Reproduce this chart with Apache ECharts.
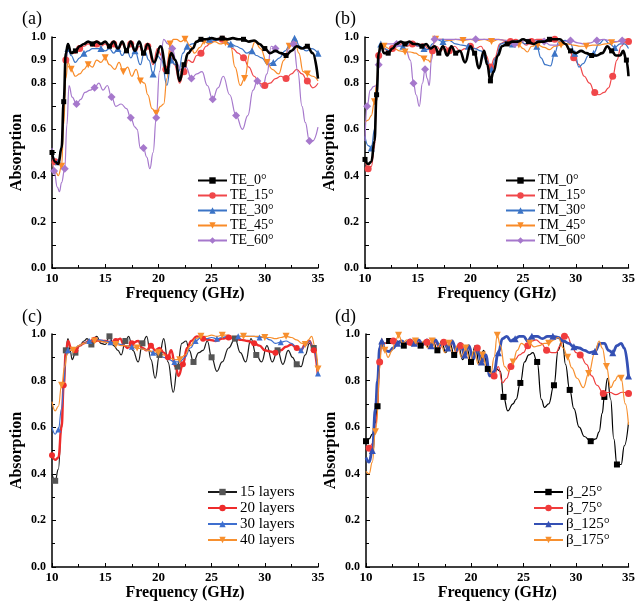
<!DOCTYPE html>
<html>
<head>
<meta charset="utf-8">
<script src="https://cdn.jsdelivr.net/npm/echarts@6/dist/echarts.min.js"></script>
<style>
html,body{margin:0;padding:0;background:#fff;}
#chart{width:638px;height:602px;}
</style>
</head>
<body>
<div id="chart"></div>
<script>
// ---------- axis ticks ----------
const freqMin = 10, freqMax = 35, freqStep = 5;
const topYLabels = [0, 0.2, 0.4, 0.6, 0.8, 0.9, 1.0];

// ---------- (a) TE polarisation, incidence angle ----------
const teNames = ['TE_0°', 'TE_15°', 'TE_30°', 'TE_45°', 'TE_60°'];
const te0 = [[10,0.50],[10.3,0.46],[10.6,0.45],[10.9,0.52],[11.1,0.72],[11.3,0.93],[11.5,0.97],[11.8,0.93],[12.2,0.94],[12.6,0.96],[13.0,0.97],[13.4,0.98],[13.8,0.97],[14.2,0.98],[14.6,0.97],[15.0,0.98],[15.4,0.96],[15.8,0.98],[16.2,0.95],[16.6,0.98],[17.0,0.94],[17.4,0.98],[17.8,0.94],[18.2,0.98],[18.6,0.93],[19.0,0.97],[19.6,0.89],[20.2,0.96],[20.8,0.85],[21.2,0.93],[21.6,0.90],[22.0,0.81],[22.4,0.88],[22.8,0.93],[23.2,0.95],[23.6,0.98],[24.0,0.99],[24.5,0.99],[25.0,0.995],[25.5,0.99],[26.0,0.995],[26.5,0.99],[27.0,0.995],[27.5,0.99],[28.0,0.99],[28.5,0.98],[29.0,0.985],[29.5,0.97],[30.0,0.95],[30.5,0.93],[31.0,0.94],[31.5,0.93],[32.0,0.92],[32.5,0.94],[33.0,0.96],[33.5,0.95],[34.0,0.96],[34.5,0.93],[35.0,0.82]];
const te15 = [[10,0.48],[10.3,0.46],[10.6,0.46],[10.9,0.52],[11.1,0.70],[11.3,0.90],[11.5,0.95],[11.8,0.93],[12.2,0.93],[12.6,0.95],[13.0,0.96],[13.4,0.97],[13.8,0.96],[14.2,0.97],[14.6,0.96],[15.0,0.97],[15.4,0.95],[15.8,0.97],[16.2,0.94],[16.6,0.97],[17.0,0.94],[17.4,0.97],[17.8,0.93],[18.2,0.96],[18.6,0.92],[19.0,0.96],[19.5,0.88],[19.9,0.95],[20.3,0.92],[20.7,0.86],[21.1,0.94],[21.5,0.88],[22.0,0.80],[22.4,0.85],[22.8,0.90],[23.2,0.89],[23.6,0.92],[24.0,0.93],[24.5,0.96],[25.0,0.98],[25.5,0.99],[26.0,0.99],[26.5,0.97],[27.0,0.95],[27.5,0.93],[28.0,0.91],[28.5,0.87],[29.0,0.83],[29.5,0.80],[30.0,0.79],[30.5,0.80],[31.0,0.82],[31.5,0.83],[32.0,0.82],[32.5,0.84],[33.0,0.86],[33.5,0.84],[34.0,0.81],[34.5,0.78],[35.0,0.80]];
const te30 = [[10,0.50],[10.3,0.47],[10.6,0.46],[10.9,0.53],[11.1,0.72],[11.3,0.90],[11.5,0.95],[11.8,0.92],[12.2,0.89],[12.6,0.91],[13.0,0.93],[13.4,0.94],[13.8,0.95],[14.2,0.95],[14.6,0.95],[15.0,0.94],[15.4,0.95],[15.8,0.93],[16.2,0.95],[16.6,0.92],[17.0,0.95],[17.4,0.91],[17.8,0.94],[18.3,0.88],[18.7,0.94],[19.1,0.90],[19.5,0.84],[19.9,0.92],[20.3,0.90],[20.8,0.79],[21.2,0.90],[21.6,0.88],[21.9,0.85],[22.3,0.93],[22.7,0.96],[23.2,0.97],[23.7,0.98],[24.2,0.99],[24.8,0.99],[25.3,0.985],[25.8,0.99],[26.3,0.98],[26.8,0.97],[27.3,0.96],[27.8,0.95],[28.3,0.93],[28.8,0.94],[29.2,0.92],[29.7,0.91],[30.3,0.88],[30.8,0.89],[31.4,0.91],[31.9,0.94],[32.4,0.97],[32.8,0.995],[33.3,0.96],[33.9,0.94],[34.4,0.95],[35.0,0.93]];
const te45 = [[10,0.46],[10.3,0.42],[10.6,0.40],[10.9,0.44],[11.1,0.62],[11.3,0.82],[11.5,0.89],[11.8,0.86],[12.2,0.83],[12.6,0.84],[13.0,0.86],[13.4,0.88],[13.8,0.87],[14.2,0.90],[14.6,0.89],[15.0,0.91],[15.4,0.88],[15.9,0.86],[16.3,0.89],[16.7,0.85],[17.1,0.87],[17.5,0.83],[17.9,0.86],[18.3,0.81],[18.7,0.80],[19.0,0.75],[19.4,0.69],[19.8,0.67],[20.2,0.70],[20.5,0.71],[20.8,0.82],[21.1,0.97],[21.4,0.99],[21.7,0.99],[22.1,0.98],[22.5,0.99],[23.0,0.96],[23.4,0.93],[23.9,0.955],[24.3,0.98],[24.8,0.97],[25.3,0.98],[25.8,0.97],[26.3,0.975],[26.8,0.96],[27.2,0.87],[27.7,0.79],[28.1,0.82],[28.6,0.93],[29.1,0.98],[29.6,0.95],[30.2,0.89],[30.7,0.86],[31.3,0.84],[31.8,0.90],[32.3,0.96],[32.8,0.995],[33.2,0.93],[33.6,0.85],[34.0,0.84],[34.5,0.83],[35.0,0.81]];
const te60 = [[10,0.52],[10.2,0.42],[10.5,0.35],[10.7,0.33],[10.9,0.37],[11.2,0.43],[11.4,0.62],[11.6,0.79],[11.9,0.74],[12.3,0.71],[12.7,0.73],[13.1,0.76],[13.6,0.77],[14.0,0.78],[14.4,0.80],[14.8,0.77],[15.2,0.79],[15.6,0.74],[16.0,0.70],[16.5,0.71],[17.0,0.69],[17.4,0.65],[17.8,0.61],[18.0,0.60],[18.3,0.52],[18.6,0.52],[18.9,0.48],[19.2,0.43],[19.5,0.50],[19.8,0.65],[20.1,0.85],[20.5,0.99],[20.9,0.97],[21.3,0.95],[21.7,0.89],[22.1,0.86],[22.6,0.87],[23.1,0.82],[23.6,0.84],[24.1,0.85],[24.6,0.79],[25.1,0.73],[25.6,0.78],[26.1,0.83],[26.7,0.75],[27.3,0.66],[27.9,0.60],[28.4,0.66],[28.9,0.77],[29.3,0.81],[29.8,0.78],[30.2,0.84],[30.6,0.96],[31.0,0.95],[31.4,0.93],[31.9,0.92],[32.4,0.96],[32.7,0.97],[33.1,0.85],[33.5,0.70],[33.8,0.63],[34.2,0.55],[34.5,0.55],[35.0,0.61]];

// ---------- (b) TM polarisation, incidence angle ----------
const tmNames = ['TM_0°', 'TM_15°', 'TM_30°', 'TM_45°', 'TM_60°'];
const tm0 = [[10,0.47],[10.3,0.45],[10.6,0.46],[10.9,0.55],[11.1,0.75],[11.3,0.93],[11.5,0.97],[11.8,0.93],[12.2,0.93],[12.6,0.95],[13.0,0.97],[13.4,0.98],[13.8,0.97],[14.2,0.98],[14.6,0.97],[15.0,0.97],[15.4,0.96],[15.8,0.97],[16.2,0.95],[16.6,0.96],[17.0,0.93],[17.4,0.96],[17.8,0.92],[18.2,0.96],[18.6,0.93],[19.0,0.94],[19.5,0.89],[20.0,0.96],[20.4,0.93],[20.8,0.865],[21.3,0.94],[21.6,0.88],[21.9,0.81],[22.2,0.85],[22.6,0.92],[23.0,0.96],[23.5,0.97],[24.0,0.98],[24.5,0.98],[25.0,0.99],[25.5,0.98],[26.0,0.97],[26.5,0.98],[27.0,0.98],[27.5,0.99],[28.0,0.99],[28.5,0.99],[29.0,0.97],[29.5,0.94],[30.0,0.93],[30.5,0.94],[31.0,0.93],[31.5,0.92],[32.0,0.92],[32.5,0.93],[33.0,0.96],[33.4,0.94],[33.8,0.92],[34.2,0.92],[34.5,0.94],[34.8,0.90],[35.0,0.83]];
const tm15 = [[10,0.47],[10.3,0.43],[10.6,0.44],[10.9,0.52],[11.1,0.75],[11.3,0.92],[11.5,0.97],[11.8,0.95],[12.2,0.94],[12.6,0.95],[13.0,0.96],[13.5,0.97],[14.0,0.96],[14.5,0.97],[15.0,0.96],[15.5,0.97],[16.0,0.95],[16.4,0.94],[16.8,0.96],[17.2,0.94],[17.6,0.96],[18.0,0.94],[18.5,0.96],[19.0,0.94],[19.5,0.95],[20.0,0.96],[20.5,0.95],[21.0,0.96],[21.5,0.92],[21.9,0.87],[22.3,0.91],[22.8,0.97],[23.3,0.98],[23.8,0.98],[24.3,0.99],[24.8,0.98],[25.3,0.965],[25.8,0.98],[26.3,0.99],[26.9,0.99],[27.5,0.98],[28.0,0.99],[28.5,0.99],[29.0,0.97],[29.4,0.94],[29.8,0.91],[30.3,0.88],[30.8,0.83],[31.3,0.80],[31.8,0.76],[32.2,0.75],[32.7,0.76],[33.1,0.78],[33.5,0.83],[33.9,0.90],[34.3,0.96],[34.7,0.98],[35.0,0.98]];
const tm30 = [[10,0.57],[10.3,0.53],[10.6,0.52],[10.9,0.60],[11.1,0.72],[11.3,0.90],[11.5,0.97],[11.8,0.95],[12.4,0.94],[13.0,0.96],[13.6,0.96],[14.2,0.97],[14.7,0.965],[15.2,0.96],[15.6,0.95],[16.0,0.945],[16.4,0.97],[16.8,0.99],[17.4,0.98],[18.0,0.985],[18.6,0.97],[19.2,0.965],[19.8,0.96],[20.4,0.95],[21.0,0.94],[21.5,0.90],[22.0,0.86],[22.4,0.91],[22.9,0.97],[23.5,0.98],[24.0,0.97],[24.6,0.985],[25.2,0.97],[25.8,0.98],[26.3,0.96],[26.7,0.91],[27.1,0.88],[27.6,0.875],[28.0,0.93],[28.4,0.98],[29.0,0.985],[29.5,0.97],[29.9,0.93],[30.3,0.87],[30.7,0.885],[31.2,0.92],[31.7,0.93],[32.2,0.97],[32.7,0.99],[33.2,0.97],[33.7,0.955],[34.2,0.97],[34.6,0.97],[35.0,0.95]];
const tm45 = [[10,0.63],[10.3,0.64],[10.6,0.66],[10.9,0.72],[11.1,0.80],[11.3,0.92],[11.5,0.97],[11.8,0.96],[12.3,0.95],[12.8,0.95],[13.3,0.94],[13.8,0.935],[14.3,0.935],[14.8,0.93],[15.2,0.92],[15.6,0.905],[16.0,0.90],[16.2,0.89],[16.4,0.96],[16.7,0.99],[17.3,0.99],[18.0,0.985],[18.6,0.99],[19.3,0.985],[20.0,0.99],[20.6,0.985],[21.3,0.99],[22.0,0.98],[22.7,0.99],[23.3,0.985],[24.0,0.97],[24.6,0.965],[25.0,0.95],[25.4,0.935],[25.8,0.96],[26.4,0.965],[27.0,0.955],[27.5,0.945],[28.0,0.96],[28.6,0.965],[29.2,0.97],[29.8,0.965],[30.4,0.96],[31.0,0.96],[31.6,0.965],[32.2,0.965],[32.8,0.97],[33.4,0.975],[34.0,0.98],[34.5,0.99],[35.0,0.99]];
const tm60 = [[10,0.55],[10.2,0.70],[10.5,0.77],[10.8,0.785],[11.1,0.79],[11.3,0.88],[11.5,0.97],[12.0,0.97],[12.5,0.97],[13.0,0.97],[13.5,0.96],[13.9,0.94],[14.3,0.90],[14.6,0.80],[14.85,0.75],[15.15,0.70],[15.45,0.80],[15.7,0.86],[15.9,0.82],[16.1,0.79],[16.3,0.90],[16.6,0.99],[17.5,0.99],[18.5,0.99],[19.5,0.99],[20.5,0.99],[21.5,0.99],[22.5,0.99],[23.5,0.985],[24.2,0.97],[24.8,0.98],[25.5,0.99],[26.2,0.985],[27.0,0.98],[27.6,0.965],[28.2,0.965],[28.8,0.98],[29.5,0.985],[30.2,0.975],[30.8,0.97],[31.4,0.975],[32.0,0.985],[32.6,0.99],[33.2,0.985],[33.8,0.98],[34.4,0.985],[35.0,0.99]];

// ---------- (c) number of layers ----------
const layerNames = ['15 layers', '20 layers', '30 layers', '40 layers'];
const l15 = [[10,0.40],[10.3,0.37],[10.6,0.42],[10.9,0.62],[11.1,0.80],[11.3,0.93],[11.5,0.98],[11.7,0.93],[11.9,0.89],[12.2,0.92],[12.6,0.95],[13.0,0.97],[13.3,0.98],[13.7,0.955],[14.2,0.99],[14.6,0.96],[15.0,0.955],[15.4,0.99],[15.8,0.95],[16.2,0.93],[16.5,0.91],[16.9,0.97],[17.2,0.99],[17.6,0.93],[18.1,0.88],[18.5,0.96],[18.9,0.99],[19.3,0.89],[19.7,0.81],[20.1,0.91],[20.5,0.98],[20.9,0.88],[21.4,0.75],[21.8,0.86],[22.2,0.96],[22.6,0.97],[22.9,0.93],[23.3,0.88],[23.8,0.92],[24.2,0.93],[24.6,0.97],[25.0,0.90],[25.5,0.84],[26.0,0.88],[26.6,0.94],[27.2,0.98],[27.7,0.92],[28.2,0.88],[28.7,0.98],[29.2,0.91],[29.7,0.88],[30.2,0.95],[30.7,0.88],[31.2,0.93],[31.7,0.87],[32.2,0.93],[32.6,0.90],[33.0,0.87],[33.4,0.86],[33.8,0.91],[34.2,0.96],[34.6,0.94],[35.0,0.84]];
const l20 = [[10,0.48],[10.3,0.46],[10.6,0.47],[10.9,0.60],[11.1,0.78],[11.3,0.92],[11.5,0.97],[11.8,0.94],[12.2,0.93],[12.6,0.95],[13.0,0.96],[13.5,0.97],[14.0,0.975],[14.5,0.97],[15.0,0.97],[15.5,0.965],[16.0,0.97],[16.4,0.98],[16.8,0.95],[17.1,0.94],[17.5,0.96],[18.1,0.97],[18.5,0.94],[18.9,0.93],[19.3,0.95],[19.7,0.93],[20.1,0.94],[20.5,0.92],[20.9,0.90],[21.2,0.93],[21.6,0.86],[21.9,0.82],[22.3,0.87],[22.7,0.94],[23.1,0.97],[23.6,0.99],[24.2,0.98],[24.8,0.975],[25.4,0.97],[26.0,0.98],[26.6,0.985],[27.2,0.98],[27.8,0.975],[28.4,0.97],[29.0,0.96],[29.5,0.95],[30.0,0.93],[30.5,0.925],[31.0,0.92],[31.5,0.93],[32.0,0.945],[32.5,0.955],[33.0,0.94],[33.4,0.93],[33.8,0.955],[34.2,0.97],[34.6,0.93],[35.0,0.82]];
const l30 = [[10,0.60],[10.3,0.57],[10.6,0.59],[10.9,0.68],[11.1,0.78],[11.3,0.90],[11.5,0.93],[12.0,0.93],[12.5,0.95],[13.0,0.96],[13.5,0.97],[14.0,0.975],[14.5,0.975],[15.0,0.97],[15.5,0.965],[16.0,0.96],[16.5,0.955],[17.0,0.95],[17.5,0.945],[18.0,0.94],[18.5,0.935],[19.0,0.93],[19.5,0.92],[20.0,0.91],[20.5,0.90],[21.0,0.89],[21.5,0.88],[22.0,0.88],[22.5,0.90],[23.0,0.94],[23.5,0.97],[24.0,0.985],[24.5,0.98],[25.0,0.985],[25.5,0.98],[26.0,0.985],[26.5,0.99],[27.0,0.99],[27.5,0.99],[28.0,0.99],[28.5,0.99],[29.0,0.99],[29.5,0.985],[30.0,0.985],[30.5,0.975],[31.0,0.96],[31.5,0.965],[32.0,0.97],[32.5,0.96],[33.0,0.94],[33.4,0.93],[33.8,0.95],[34.2,0.97],[34.6,0.93],[35.0,0.83]];
const l40 = [[10,0.71],[10.3,0.67],[10.6,0.69],[10.9,0.78],[11.2,0.86],[11.4,0.91],[11.6,0.93],[12.0,0.93],[12.5,0.95],[13.0,0.96],[13.5,0.965],[14.0,0.97],[14.5,0.97],[15.0,0.965],[15.5,0.96],[16.0,0.955],[16.5,0.95],[17.0,0.95],[17.5,0.945],[18.0,0.94],[18.5,0.935],[19.0,0.93],[19.5,0.925],[20.0,0.92],[20.5,0.91],[21.0,0.90],[21.5,0.89],[22.0,0.89],[22.5,0.91],[23.0,0.95],[23.5,0.98],[24.0,0.99],[24.5,0.99],[25.0,0.995],[25.5,0.99],[26.0,0.995],[26.5,0.995],[27.0,0.99],[27.5,0.99],[28.0,0.99],[28.5,0.99],[29.0,0.99],[29.5,0.99],[30.0,0.985],[30.5,0.985],[31.0,0.98],[31.5,0.985],[32.0,0.99],[32.5,0.985],[33.0,0.975],[33.5,0.96],[33.8,0.955],[34.1,0.975],[34.4,0.99],[34.7,0.95],[35.0,0.85]];

// ---------- (d) rotation angle beta ----------
const betaNames = ['β_25°', 'β_75°', 'β_125°', 'β_175°'];
const b25 = [[10,0.54],[10.3,0.55],[10.6,0.57],[10.9,0.62],[11.1,0.69],[11.3,0.90],[11.5,0.97],[11.8,0.96],[12.2,0.97],[12.4,0.98],[12.8,0.96],[13.2,0.97],[13.6,0.95],[14.0,0.97],[14.4,0.95],[14.8,0.97],[15.2,0.95],[15.6,0.97],[16.0,0.94],[16.4,0.97],[16.8,0.93],[17.2,0.97],[17.6,0.92],[18.0,0.96],[18.4,0.91],[18.8,0.95],[19.2,0.89],[19.6,0.94],[20.0,0.88],[20.4,0.95],[20.8,0.87],[21.2,0.93],[21.6,0.85],[22.0,0.82],[22.4,0.85],[22.8,0.84],[23.1,0.73],[23.5,0.67],[24.0,0.70],[24.3,0.72],[24.7,0.79],[25.1,0.88],[25.5,0.91],[25.9,0.92],[26.3,0.88],[26.7,0.72],[27.0,0.685],[27.4,0.70],[27.9,0.78],[28.3,0.93],[28.7,0.98],[29.0,0.87],[29.4,0.76],[29.8,0.68],[30.3,0.60],[30.8,0.56],[31.4,0.54],[31.9,0.55],[32.2,0.58],[32.5,0.66],[32.7,0.73],[33.0,0.81],[33.3,0.72],[33.6,0.55],[33.9,0.44],[34.3,0.44],[34.6,0.52],[35.0,0.62]];
const b75 = [[10,0.52],[10.3,0.51],[10.6,0.53],[10.9,0.60],[11.1,0.67],[11.3,0.88],[11.5,0.97],[11.8,0.96],[12.2,0.96],[12.6,0.97],[13.0,0.96],[13.4,0.97],[13.8,0.955],[14.2,0.965],[14.6,0.95],[15.0,0.965],[15.4,0.95],[15.8,0.965],[16.2,0.94],[16.6,0.965],[17.0,0.935],[17.4,0.965],[17.8,0.93],[18.2,0.96],[18.6,0.92],[19.0,0.95],[19.4,0.90],[19.8,0.945],[20.2,0.89],[20.6,0.94],[21.0,0.87],[21.4,0.91],[21.8,0.83],[22.2,0.82],[22.6,0.86],[23.0,0.79],[23.4,0.81],[23.8,0.86],[24.2,0.89],[24.6,0.91],[25.0,0.92],[25.4,0.95],[25.8,0.97],[26.2,0.975],[26.7,0.96],[27.2,0.93],[27.7,0.92],[28.1,0.92],[28.5,0.95],[28.9,0.99],[29.2,0.99],[29.6,0.95],[30.0,0.92],[30.4,0.91],[31.0,0.87],[31.5,0.82],[32.0,0.78],[32.6,0.745],[33.2,0.75],[33.8,0.74],[34.4,0.75],[35.0,0.745]];
const b125 = [[10,0.47],[10.3,0.45],[10.6,0.50],[10.9,0.68],[11.1,0.80],[11.3,0.94],[11.5,0.97],[11.8,0.93],[12.2,0.925],[12.6,0.94],[13.0,0.96],[13.4,0.97],[13.8,0.96],[14.2,0.975],[14.6,0.96],[15.0,0.975],[15.4,0.955],[15.8,0.975],[16.2,0.95],[16.6,0.975],[17.0,0.95],[17.4,0.97],[17.8,0.94],[18.2,0.97],[18.6,0.93],[19.0,0.96],[19.4,0.91],[19.8,0.95],[20.2,0.89],[20.6,0.94],[21.0,0.88],[21.4,0.91],[21.8,0.82],[22.2,0.84],[22.6,0.92],[23.0,0.98],[23.4,0.99],[23.8,0.97],[24.2,0.98],[24.6,0.99],[25.0,0.99],[25.4,0.97],[25.8,0.99],[26.3,0.99],[26.8,0.98],[27.3,0.99],[27.8,0.99],[28.3,0.985],[28.8,0.97],[29.3,0.96],[29.8,0.945],[30.3,0.94],[30.8,0.93],[31.3,0.92],[31.8,0.925],[32.3,0.96],[32.7,0.96],[33.1,0.93],[33.5,0.92],[33.9,0.95],[34.3,0.96],[34.6,0.94],[35.0,0.82]];
const b175 = [[10,0.41],[10.3,0.40],[10.6,0.45],[10.9,0.58],[11.0,0.61],[11.3,0.85],[11.5,0.98],[11.8,0.93],[12.1,0.90],[12.5,0.93],[12.8,0.97],[13.1,0.995],[13.5,0.96],[13.9,0.975],[14.3,0.95],[14.7,0.97],[15.1,0.945],[15.5,0.97],[15.9,0.94],[16.3,0.97],[16.7,0.93],[17.1,0.96],[17.5,0.92],[17.9,0.96],[18.3,0.91],[18.7,0.95],[19.1,0.90],[19.5,0.94],[19.9,0.88],[20.3,0.93],[20.7,0.87],[21.1,0.91],[21.5,0.85],[21.9,0.83],[22.2,0.90],[22.5,0.995],[22.8,0.95],[23.2,0.86],[23.6,0.84],[24.0,0.88],[24.4,0.93],[24.8,0.96],[25.2,0.95],[25.6,0.96],[26.0,0.945],[26.5,0.95],[27.0,0.96],[27.4,0.96],[27.9,0.975],[28.3,0.985],[28.8,0.94],[29.2,0.90],[29.6,0.855],[30.1,0.81],[30.7,0.77],[31.2,0.83],[31.8,0.92],[32.2,0.97],[32.5,0.94],[32.9,0.86],[33.3,0.77],[33.7,0.80],[34.0,0.82],[34.3,0.81],[34.7,0.70],[35.0,0.61]];

// ---------- styling ----------
const FONT = "'Liberation Serif', 'Times New Roman', serif";
const BLACK = '#000000', RED = '#f0474a', BLUE = '#3b74c6', ORANGE = '#f98b28', PURPLE = '#a678cc';
const DOWN_TRI = 'path://M0,0L10,0L5,10Z';

// panel rectangles: left, top, width, height
const panels = [
  {left: 52, top: 37, width: 266, height: 231},
  {left: 365, top: 37, width: 267, height: 231},
  {left: 52, top: 334, width: 266, height: 234},
  {left: 366, top: 334, width: 266, height: 234}
];

function lineSeries(name, pts, gi, st) {
  const every = st.every || 4;
  return {
    name: name, type: 'line', xAxisIndex: gi, yAxisIndex: gi,
    smooth: 0.45, smoothMonotone: 'x',
    symbol: st.symbol, symbolSize: st.size || 6,
    lineStyle: {color: st.color, width: st.width || 1.2},
    itemStyle: {color: st.marker || st.color},
    z: st.z || 2,
    data: pts.map(function (p, i) {
      return (i % every === (st.offset || 0)) ? {value: p} : {value: p, symbol: 'none'};
    })
  };
}

function xAxisCfg(gi) {
  return {
    gridIndex: gi, type: 'value', min: freqMin, max: freqMax, interval: freqStep,
    name: 'Frequency (GHz)', nameLocation: 'middle', nameGap: 18,
    nameTextStyle: {fontFamily: FONT, fontWeight: 'bold', fontSize: 16, color: '#000'},
    axisLine: {show: true, onZero: false, lineStyle: {color: '#000', width: 1.5}},
    axisTick: {show: true, inside: true, length: 4, lineStyle: {color: '#000', width: 1}},
    minorTick: {show: true, splitNumber: 2, length: 3, lineStyle: {color: '#000', width: 1}},
    axisLabel: {fontFamily: FONT, fontWeight: 'bold', fontSize: 13, color: '#000', margin: 4},
    splitLine: {show: false}
  };
}

function yAxisCfg(gi, dense) {
  const cfg = {
    gridIndex: gi, type: 'value', min: 0, max: 1,
    name: 'Absorption', nameLocation: 'middle', nameGap: 27,
    nameTextStyle: {fontFamily: FONT, fontWeight: 'bold', fontSize: 16, color: '#000'},
    axisLine: {show: true, onZero: false, lineStyle: {color: '#000', width: 1.5}},
    axisTick: {show: true, inside: true, length: 4, lineStyle: {color: '#000', width: 1}},
    axisLabel: {fontFamily: FONT, fontWeight: 'bold', fontSize: 12, color: '#000', margin: 6},
    splitLine: {show: false}
  };
  if (dense) {
    cfg.interval = 0.1;
    cfg.axisLabel.formatter = function (v) {
      const r = Math.round(v * 10) / 10;
      return topYLabels.indexOf(r) >= 0 ? r.toFixed(1) : '';
    };
  } else {
    cfg.interval = 0.2;
    cfg.minorTick = {show: true, splitNumber: 2, length: 3, lineStyle: {color: '#000', width: 1}};
    cfg.axisLabel.formatter = function (v) { return v.toFixed(1); };
  }
  return cfg;
}

function legendCfg(names, left, top, fs) {
  return {
    data: names, orient: 'vertical', left: left, top: top,
    itemWidth: 29, itemHeight: 8, itemGap: 0,
    textStyle: {fontFamily: FONT, fontSize: fs, color: '#000', lineHeight: fs + 1, padding: [0, 0, 0, -2]},
    selectedMode: false
  };
}

const series = [
  lineSeries(teNames[1], te15, 0, {color: RED, symbol: 'circle', size: 7, offset: 1}),
  lineSeries(teNames[2], te30, 0, {color: BLUE, symbol: 'triangle', size: 7, offset: 2}),
  lineSeries(teNames[3], te45, 0, {color: ORANGE, symbol: DOWN_TRI, size: 7, offset: 3}),
  lineSeries(teNames[4], te60, 0, {color: PURPLE, symbol: 'diamond', size: 8, offset: 1}),
  lineSeries(teNames[0], te0, 0, {color: BLACK, width: 2.6, symbol: 'rect', size: 5, offset: 0, z: 3}),

  lineSeries(tmNames[1], tm15, 1, {color: RED, symbol: 'circle', size: 7, offset: 1}),
  lineSeries(tmNames[2], tm30, 1, {color: BLUE, symbol: 'triangle', size: 7, offset: 2}),
  lineSeries(tmNames[3], tm45, 1, {color: ORANGE, symbol: DOWN_TRI, size: 7, offset: 3}),
  lineSeries(tmNames[4], tm60, 1, {color: PURPLE, symbol: 'diamond', size: 8, offset: 1}),
  lineSeries(tmNames[0], tm0, 1, {color: BLACK, width: 2.6, symbol: 'rect', size: 5, offset: 0, z: 3}),

  lineSeries(layerNames[0], l15, 2, {color: '#1a1a1a', marker: '#555555', symbol: 'rect', size: 6, offset: 1}),
  lineSeries(layerNames[1], l20, 2, {color: '#ee2b2b', width: 2.4, symbol: 'circle', size: 6, offset: 0}),
  lineSeries(layerNames[2], l30, 2, {color: '#3e6fcf', symbol: 'triangle', size: 6, offset: 2}),
  lineSeries(layerNames[3], l40, 2, {color: '#f7902f', symbol: DOWN_TRI, size: 7, offset: 3}),

  lineSeries(betaNames[0], b25, 3, {color: BLACK, symbol: 'rect', size: 6, offset: 0}),
  lineSeries(betaNames[1], b75, 3, {color: '#f03c3c', symbol: 'circle', size: 7, offset: 1}),
  lineSeries(betaNames[2], b125, 3, {color: '#3450b4', width: 2.8, symbol: 'triangle', size: 7, offset: 2}),
  lineSeries(betaNames[3], b175, 3, {color: '#f7902f', symbol: DOWN_TRI, size: 7, offset: 3})
];

const chart = echarts.init(document.getElementById('chart'), null, {renderer: 'canvas'});
chart.setOption({
  animation: false,
  backgroundColor: '#ffffff',
  grid: panels.map(function (p) { return {left: p.left, top: p.top, width: p.width, height: p.height, containLabel: false}; }),
  xAxis: [0, 1, 2, 3].map(xAxisCfg),
  yAxis: [yAxisCfg(0, true), yAxisCfg(1, true), yAxisCfg(2, false), yAxisCfg(3, false)],
  legend: [
    legendCfg(teNames, 192, 168, 14),
    legendCfg(tmNames, 500, 168, 14),
    legendCfg(layerNames, 202, 479, 15),
    legendCfg(betaNames, 528, 479, 15)
  ],
  graphic: [
    {type: 'text', left: 22, top: 10, style: {text: '(a)', font: '18px ' + FONT, fill: '#000'}},
    {type: 'text', left: 335, top: 10, style: {text: '(b)', font: '18px ' + FONT, fill: '#000'}},
    {type: 'text', left: 22, top: 308, style: {text: '(c)', font: '18px ' + FONT, fill: '#000'}},
    {type: 'text', left: 335, top: 308, style: {text: '(d)', font: '18px ' + FONT, fill: '#000'}}
  ],
  series: series
});
</script>
</body>
</html>
